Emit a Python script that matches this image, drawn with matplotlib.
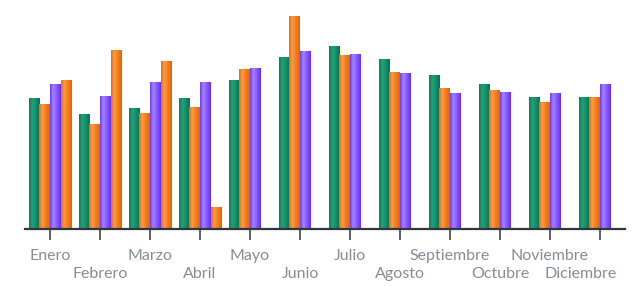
import numpy as np
import matplotlib.pyplot as plt
import matplotlib.transforms as mtransforms
from matplotlib.colors import LinearSegmentedColormap

plt.rcParams["font.family"] = ["Lato", "DejaVu Sans"]

months = ["Enero", "Febrero", "Marzo", "Abril", "Mayo", "Junio",
          "Julio", "Agosto", "Septiembre", "Octubre", "Noviembre", "Diciembre"]

serie_verde = [131, 115, 121, 131, 149, 172, 183, 170, 154, 145, 132, 132]
serie_naranja = [125, 105, 116, 122, 160, 213, 174, 157, 141, 139, 127, 132]
serie_morada = [145, 133, 147, 147, 161, 178, 175, 156, 136, 137, 136, 145]
serie_naranja2 = [149, 179, 168, 22, 0, 0, 0, 0, 0, 0, 0, 0]

# edge / highlight / edge colours for the cylinder-ish gradient
grad_green = ["#0f7a57", "#1fa27a", "#17916b", "#0d6e4f"]
grad_orange = ["#e86c10", "#ff9a45", "#f5811f", "#e0640a"]
grad_purple = ["#6a3cf0", "#a583ff", "#8a5cff", "#6430ee"]

series = [
    (serie_verde, grad_green),
    (serie_naranja, grad_orange),
    (serie_morada, grad_purple),
    (serie_naranja2, grad_orange),
]

W, H = 633, 286
fig = plt.figure(figsize=(W / 100, H / 100), dpi=100)
ax = fig.add_axes([25 / W, (H - 229) / H, 600 / W, 229 / H])

x = np.arange(len(months))
bw = 0.212
offsets = (np.arange(4) - 1.5) * bw
grad = np.linspace(0, 1, 64).reshape(1, -1)

for (vals, cols), off in zip(series, offsets):
    cmap = LinearSegmentedColormap.from_list("g", list(zip([0, 0.3, 0.6, 1], cols)))
    bars = ax.bar(x + off, vals, width=bw, color=cols[2], linewidth=0, zorder=2)
    for b in bars:
        h = b.get_height()
        if h <= 0:
            continue
        x0 = b.get_x()
        im = ax.imshow(grad, cmap=cmap, aspect="auto", zorder=3,
                       extent=(x0, x0 + b.get_width(), 0, h), interpolation="bilinear")
        im.set_clip_path(b)

ax.set_xlim(-0.5, len(months) - 0.5)
ax.set_ylim(0, 229)
ax.set_yticks([])
for s in ["top", "right", "left"]:
    ax.spines[s].set_visible(False)
ax.spines["bottom"].set_color("#30363d")
ax.spines["bottom"].set_linewidth(1.6)
ax.spines["bottom"].set_zorder(5)

# staggered labels: even months on the first row (major), odd on the second (minor)
ax.set_xticks(x[::2])
ax.set_xticklabels(months[::2])
ax.set_xticks(x[1::2], minor=True)
ax.set_xticklabels(months[1::2], minor=True)
lab_kw = dict(length=8, width=1.1, color="#30363d", labelsize=11.5, labelcolor="#858d99")
ax.tick_params(axis="x", which="major", pad=6.5, **lab_kw)
ax.tick_params(axis="x", which="minor", pad=19.5, **lab_kw)

# last label is nudged left so it stays inside the canvas
last = ax.xaxis.get_minorticklabels()[-1]
last.set_transform(last.get_transform() +
                   mtransforms.ScaledTranslation(-0.19, 0, fig.dpi_scale_trans))

fig.savefig("out.png", dpi=100)
